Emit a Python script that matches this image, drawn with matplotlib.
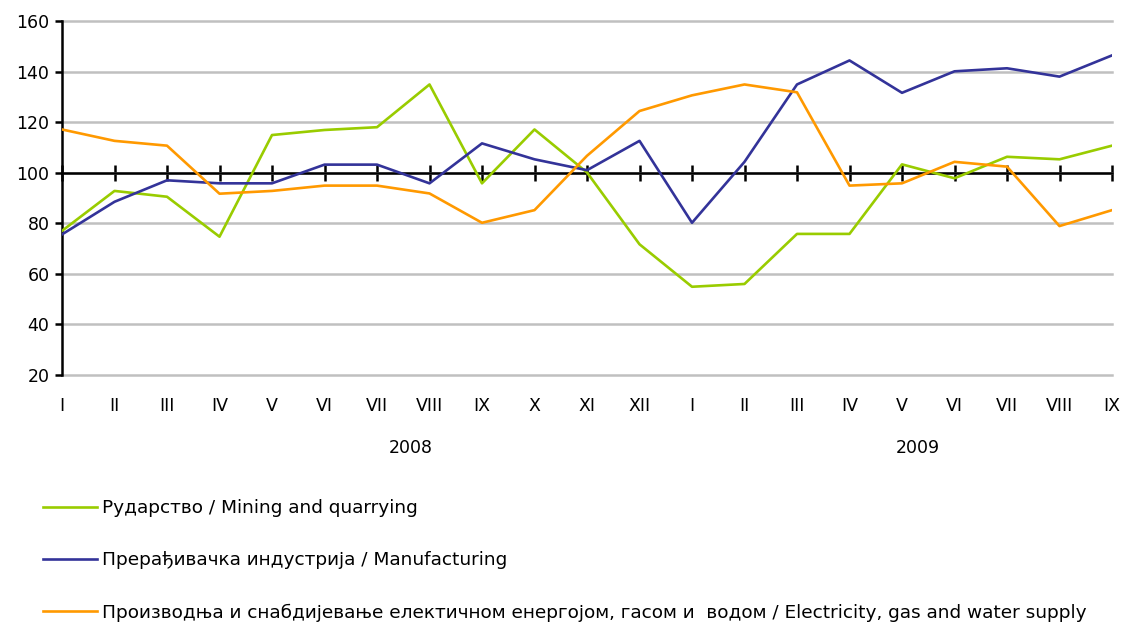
import matplotlib
matplotlib.use("Agg")
import matplotlib.pyplot as plt
import numpy as np

months = ["I", "II", "III", "IV", "V", "VI", "VII", "VIII", "IX", "X", "XI", "XII",
          "I", "II", "III", "IV", "V", "VI", "VII", "VIII", "IX"]
years = ["2008", "2009"]
year_pos = [6.65, 16.3]

mining = [77, 92.8, 90.5, 74.7, 114.9, 116.9, 118, 134.9, 95.8, 117.1, 100.1, 71.7,
          54.9, 56, 75.8, 75.8, 103.3, 97.8, 106.3, 105.3, 110.7]
manufacturing = [75.6, 88.5, 97, 95.8, 95.8, 103.2, 103.2, 95.8, 111.6, 105.3, 101, 112.6,
                 80.2, 104.3, 134.9, 144.4, 131.6, 140.1, 141.3, 138, 146.4]
electricity = [117.1, 112.6, 110.7, 91.7, 92.8, 94.9, 94.9, 91.8, 80.2, 85.2, 106.7, 124.4,
               130.6, 134.9, 131.8, 94.9, 95.8, 104.3, 102.4, 78.9, 85.2]

labels = ["Рударство / Mining and quarrying",
          "Прерађивачка индустрија / Manufacturing",
          "Производња и снабдијевање електичном енергојом, гасом и  водом / Electricity, gas and water supply"]
colors = ["#99CC00", "#333399", "#FF9900"]

plt.rcParams['font.family'] = ['DejaVu Sans']
fig = plt.figure(figsize=(11.25, 6.28), dpi=100)
ax = fig.add_axes([62/1125, 1-375/628, (1112-62)/1125, (375-21)/628])

x = np.arange(len(months))
for series, c, lab in zip([mining, manufacturing, electricity], colors, labels):
    ax.plot(x, series, color=c, lw=1.9, label=lab, zorder=3)

ax.set_xlim(0, len(months)-1)
ax.set_ylim(20, 160)
ax.set_yticks(np.arange(20, 161, 20))
ax.yaxis.grid(True, color="#C0C0C0", lw=1.8)
ax.set_axisbelow(True)
ax.tick_params(axis='y', direction='out', length=5, width=1.8, labelsize=12.5, pad=4)

for s in ['top', 'right']:
    ax.spines[s].set_visible(False)
ax.spines['left'].set_linewidth(1.8)
ax.spines['left'].set_zorder(2.6)
ax.spines['bottom'].set_position(('data', 100))
ax.spines['bottom'].set_linewidth(1.8)
ax.spines['bottom'].set_zorder(2.5)
ax.set_xticks(x)
ax.tick_params(axis='x', direction='inout', length=12, width=1.8, labelbottom=False)

sec = ax.secondary_xaxis('bottom')
sec.set_xticks(x)
sec.set_xticklabels(months)
sec.tick_params(axis='x', length=0, labelsize=12.5, pad=16)
sec.spines['bottom'].set_visible(False)

for yl, yp in zip(years, year_pos):
    ax.text(yp, -0.205, yl, transform=ax.get_xaxis_transform(), ha='center', va='center',
            fontsize=12.5)

fig.canvas.draw()
for gl in ax.get_ygridlines():
    gl.set_clip_on(False)

fig.legend(loc='upper left', bbox_to_anchor=(43/1125, 1-499/628), frameon=False,
           fontsize=13.3, handlelength=2.95, handletextpad=0.25, labelspacing=1.85,
           borderaxespad=0, borderpad=0)

fig.savefig("out.png", dpi=100)
